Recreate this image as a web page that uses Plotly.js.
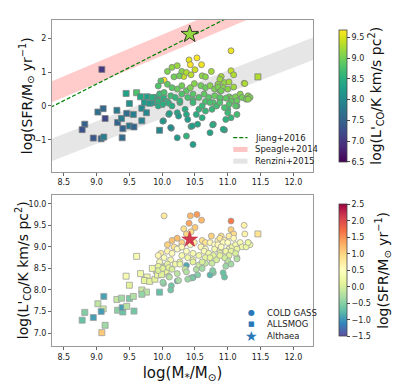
<!DOCTYPE html>
<html>
<head>
<meta charset="utf-8">
<script src="https://cdn.plot.ly/plotly-3.0.1.min.js"></script>
<style>
  body { margin: 0; background: #fff; }
  #plotArea { width: 415px; height: 389px; }
</style>
</head>
<body>
<div id="plotArea"></div>
<script>
// ALLSMOG (squares): stellar mass, SFR, L'CO  (all log)
var amMass = [9.08, 8.82, 8.78, 8.95, 9.02, 9.10, 9.13, 9.07, 9.11, 9.31, 9.32, 9.38, 9.40, 9.39, 9.50,
              9.57, 9.45, 9.61, 9.50, 9.67, 9.77, 9.73, 9.81, 9.89, 9.91, 9.69, 9.76, 9.56, 9.69, 9.96,
              9.46, 9.85, 9.93, 9.98, 10.02, 10.06, 9.99, 11.46];
var amSfr  = [1.08, -0.54, -0.70, -0.95, -0.18, -0.08, -0.37, -0.97, -0.92, -0.13, -0.49, -0.37, -0.67, -0.94, -0.59,
              -0.62, 0.37, 0.39, 0.07, 0.27, 0.27, 0.10, 0.08, 0.10, 0.25, -0.07, -0.20, -0.25, -0.44, -0.72,
              -0.22, 0.25, 0.15, 0.35, 0.22, 0.12, 0.05, 0.86];
var amLco  = [7.01, 7.48, 7.30, 7.36, 7.68, 7.56, 7.18, 7.50, 7.85, 7.78, 7.53, 7.81, 7.49, 7.59, 7.80,
              7.51, 8.32, 8.78, 8.11, 8.38, 8.30, 8.22, 8.20, 8.25, 8.45, 8.00, 7.95, 7.85, 7.90, 7.95,
              7.62, 8.50, 8.35, 8.55, 8.52, 8.42, 8.36, 9.30];

// COLD GASS (circles)
var cgMass = [10.41, 10.50, 10.03, 10.33, 10.53, 10.60, 10.15, 10.23, 10.30, 10.37, 10.43, 10.08, 10.18, 10.26, 10.61,
              10.66, 10.75, 10.44, 9.98, 10.08, 9.94, 10.15, 10.23, 10.30, 10.37, 10.43, 10.49, 10.59, 10.66, 10.73,
              10.80, 10.85, 10.88, 9.96, 10.03, 10.13, 10.20, 10.30, 10.39, 10.47, 10.56, 10.64, 10.71, 10.80, 10.88,
              9.94, 10.08, 10.27, 10.47, 10.66, 10.78,
              11.05, 11.05, 11.09, 11.25, 10.90, 10.88, 10.95, 11.02, 10.85, 10.93, 11.09, 10.90, 11.00, 11.31, 11.34,
              11.02, 11.07, 11.12, 11.19, 11.22, 10.97, 10.88, 11.14, 11.05, 11.26, 11.28, 11.14, 11.00, 10.95, 10.78,
              10.02, 10.14, 10.23, 10.37, 10.44, 10.54, 10.47, 10.73, 10.77, 9.94, 10.01, 10.10, 10.10, 10.23, 10.27,
              10.35, 10.37, 10.47, 10.52, 10.56, 10.61, 10.66, 10.73, 10.76, 10.83, 10.61, 10.15,
              10.93, 11.02, 11.12, 11.00, 11.05, 11.14, 10.95, 10.88, 10.97, 11.31, 10.01, 10.11, 10.13, 10.46, 10.25, 10.39];
var cgSfr  = [1.36, 1.07, 0.76, 0.87, 1.42, 1.22, 1.14, 1.19, 1.02, 0.99, 1.22, 1.02, 0.86, 0.89, 0.89,
              0.86, 1.02, 0.92, 0.74, 0.64, 0.59, 0.54, 0.50, 0.60, 0.45, 0.54, 0.66, 0.60, 0.54, 0.60,
              0.50, 0.64, 0.45, 0.35, 0.40, 0.30, 0.25, 0.35, 0.25, 0.35, 0.25, 0.35, 0.25, 0.30, 0.20,
              0.13, 0.13, 0.10, 0.17, 0.13, 0.10,
              1.63, 1.04, 0.92, 0.67, 0.87, 0.79, 0.69, 0.71, 0.56, 0.54, 0.56, 0.45, 0.50, 0.30, 0.25,
              0.27, 0.23, 0.27, 0.35, 0.25, 0.23, 0.25, 0.15, 0.13, 0.66, 0.20, 0.00, -0.10, -0.71, -0.54,
              -0.44, -0.66, -0.94, -0.89, -0.61, -0.54, -1.14, -0.79, -0.56, 0.00, 0.05, 0.08, -0.25, -0.20, 0.15,
              -0.10, -0.25, 0.10, -0.25, -0.10, -0.35, -0.15, 0.10, -0.10, 0.00, 0.00, 0.00,
              -0.69, 0.05, 0.00, -0.20, -0.35, -0.25, -0.05, 0.10, -0.40, 0.20, -0.45, -0.22, -0.64, -0.59, -0.30, -0.40];
var cgLco  = [9.55, 9.45, 9.72, 9.42, 9.75, 9.62, 9.15, 9.20, 9.10, 9.30, 9.72, 9.05, 9.00, 8.98, 9.15,
              9.10, 9.25, 9.35, 8.85, 8.90, 8.80, 8.85, 8.95, 9.00, 8.90, 9.05, 9.10, 9.00, 8.95, 9.10,
              9.05, 9.15, 9.00, 8.65, 8.75, 8.70, 8.60, 8.80, 8.75, 8.85, 8.80, 8.90, 8.85, 8.95, 8.90,
              8.55, 8.60, 8.65, 8.70, 8.75, 8.80,
              9.60, 9.40, 9.30, 9.50, 9.25, 9.20, 9.15, 9.25, 9.05, 9.10, 9.20, 9.00, 9.10, 9.10, 9.05,
              8.95, 9.00, 9.05, 9.10, 9.00, 8.90, 8.85, 8.95, 8.90, 9.30, 9.00, 8.75, 8.65, 8.30, 8.40,
              8.15, 8.10, 8.21, 8.57, 8.28, 8.35, 8.29, 8.35, 8.45, 8.45, 8.50, 8.52, 8.32, 8.38, 8.60,
              8.48, 8.42, 8.65, 8.48, 8.58, 8.50, 8.62, 8.75, 8.62, 8.70, 8.65, 8.48,
              8.40, 8.80, 8.85, 8.68, 8.60, 8.72, 8.75, 8.80, 8.55, 9.10, 8.18, 8.30, 8.00, 8.28, 8.22, 8.25];

// Althaea
var altMass = [10.42];
var altSfr = [2.12];
var altLco = [9.17];

// reference relations (end points)
var relX = [8.3, 12.3];
var jiangY = [-0.04, 3.88];
var speagleLo = [0.09, 3.37];
var speagleHi = [0.71, 3.99];
var renziniLo = [-1.64, 1.36];
var renziniHi = [-0.98, 2.02];

var lcoTicks = [6.5, 7.0, 7.5, 8.0, 8.5, 9.0, 9.5];
var sfrTicks = [-1.5, -1.0, -0.5, 0.0, 0.5, 1.0, 1.5, 2.0, 2.5];
var massTicks = [8.5, 9.0, 9.5, 10.0, 10.5, 11.0, 11.5, 12.0];

var topLegend = ["Jiang+2016", "Speagle+2014", "Renzini+2015"];
var bottomLegend = ["COLD GASS", "ALLSMOG", "Althaea"];

var spectralR = [
  [0.0, "#5e4fa2"], [0.1, "#3288bd"], [0.2, "#66c2a5"], [0.3, "#abdda4"], [0.4, "#e6f598"],
  [0.5, "#ffffbf"], [0.6, "#fee08b"], [0.7, "#fdae61"], [0.8, "#f46d43"], [0.9, "#d53e4f"], [1.0, "#9e0142"]
];

var font = "DejaVu Sans";
var lcoTitle = "log(L'<sub>CO</sub>/K km/s pc<sup>2</sup>)";
var sfrTitle = "log(SFR/M<sub>⊙</sub> yr<sup>−1</sup>)";

function cbar(y, ticks, title) {
  return {
    x: 1.062, xanchor: "left", y: y, yanchor: "middle", len: 0.465, lenmode: "fraction",
    thickness: 8, outlinewidth: 0.8, outlinecolor: "#444",
    ticks: "outside", ticklen: 3, tickcolor: "#444",
    tickvals: ticks, ticktext: ticks.map(t => t.toFixed(1).replace("-", "−")),
    tickfont: {family: font, size: 8, color: "#222"},
    title: {text: title, side: "right", font: {family: font, size: 14, color: "#111"}}
  };
}

var traces = [];

// top panel bands
traces.push({x: relX.concat(relX.slice().reverse()), y: renziniLo.concat(renziniHi.slice().reverse()),
  fill: "toself", fillcolor: "rgba(200,200,200,0.45)", line: {width: 0}, mode: "lines",
  hoverinfo: "skip", showlegend: false, xaxis: "x", yaxis: "y"});
traces.push({x: relX.concat(relX.slice().reverse()), y: speagleLo.concat(speagleHi.slice().reverse()),
  fill: "toself", fillcolor: "rgba(255,140,140,0.45)", line: {width: 0}, mode: "lines",
  hoverinfo: "skip", showlegend: false, xaxis: "x", yaxis: "y"});
traces.push({x: relX, y: jiangY, mode: "lines", line: {color: "green", width: 1.2, dash: "4px,2px"},
  showlegend: false, xaxis: "x", yaxis: "y"});

// top panel data
traces.push({x: amMass, y: amSfr, mode: "markers", type: "scatter", xaxis: "x", yaxis: "y", showlegend: false,
  marker: {symbol: "square", size: 6, color: amLco, colorscale: "Viridis", cmin: 6.5, cmax: 9.68,
           line: {color: "#808080", width: 0.8}}});
traces.push({x: cgMass, y: cgSfr, mode: "markers", type: "scatter", xaxis: "x", yaxis: "y", showlegend: false,
  marker: {symbol: "circle", size: 6, color: cgLco, colorscale: "Viridis", cmin: 6.5, cmax: 9.68,
           line: {color: "#808080", width: 0.8}, colorbar: cbar(0.7675, lcoTicks, lcoTitle)}});
traces.push({x: altMass, y: altSfr, mode: "markers", type: "scatter", xaxis: "x", yaxis: "y", showlegend: false,
  marker: {symbol: "star", size: 13, color: altLco, colorscale: "Viridis", cmin: 6.5, cmax: 9.68,
           line: {color: "#111", width: 0.8}}});

// bottom panel data
traces.push({x: amMass, y: amLco, mode: "markers", type: "scatter", xaxis: "x2", yaxis: "y2", showlegend: false,
  marker: {symbol: "square", size: 6, color: amSfr, colorscale: spectralR, cmin: -1.5, cmax: 2.5,
           line: {color: "#a0a0a0", width: 0.8}}});
traces.push({x: cgMass, y: cgLco, mode: "markers", type: "scatter", xaxis: "x2", yaxis: "y2", showlegend: false,
  marker: {symbol: "circle", size: 6, color: cgSfr, colorscale: spectralR, cmin: -1.5, cmax: 2.5,
           line: {color: "#a0a0a0", width: 0.8}, colorbar: cbar(0.232, sfrTicks, sfrTitle)}});
traces.push({x: altMass, y: altLco, mode: "markers", type: "scatter", xaxis: "x2", yaxis: "y2", showlegend: false,
  marker: {symbol: "star", size: 12, color: altSfr, colorscale: spectralR, cmin: -1.5, cmax: 2.5,
           line: {color: "#c02030", width: 0.5}}});

// hand-made legends (paper coordinates)
var shapes = [
  {type: "line", xref: "paper", yref: "paper", x0: 0.6945, x1: 0.749, y0: 0.639, y1: 0.639,
   line: {color: "green", width: 1.2, dash: "4px,2px"}},
  {type: "line", xref: "paper", yref: "paper", x0: 0.6945, x1: 0.749, y0: 0.603, y1: 0.603,
   line: {color: "#ffc4c4", width: 5}},
  {type: "line", xref: "paper", yref: "paper", x0: 0.6945, x1: 0.749, y0: 0.567, y1: 0.567,
   line: {color: "#e4e4e4", width: 5}}
];
var annotations = [];
var topY = [0.639, 0.603, 0.567];
topLegend.forEach(function(name, i) {
  annotations.push({text: name, xref: "paper", yref: "paper", x: 0.771, y: topY[i], xanchor: "left", yanchor: "middle",
    showarrow: false, font: {family: font, size: 8.5, color: "#222"}});
});
var botY = [0.102, 0.0675, 0.0316];
var glyphs = ["●", "■", "★"];
var glyphSize = [8, 7, 14];
bottomLegend.forEach(function(name, i) {
  annotations.push({text: glyphs[i], xref: "paper", yref: "paper", x: 0.765, y: botY[i], xanchor: "center", yanchor: "middle",
    showarrow: false, font: {family: font, size: glyphSize[i], color: "#2a78b8"}});
  annotations.push({text: name, xref: "paper", yref: "paper", x: 0.8145, y: botY[i], xanchor: "left", yanchor: "middle",
    showarrow: false, font: {family: font, size: 8.5, color: "#222"}});
});

// y axis titles placed as rotated annotations
annotations.push({text: sfrTitle, xref: "paper", yref: "paper", x: -0.098, y: 0.7675, xanchor: "center", yanchor: "middle",
  textangle: -90, showarrow: false, font: {family: font, size: 14, color: "#111"}});
annotations.push({text: lcoTitle, xref: "paper", yref: "paper", x: -0.108, y: 0.232, xanchor: "center", yanchor: "middle",
  textangle: -90, showarrow: false, font: {family: font, size: 14, color: "#111"}});

function axisBase() {
  return {
    showgrid: false, zeroline: false, showline: true, mirror: true, linecolor: "#999", linewidth: 1,
    ticks: "outside", ticklen: 3, tickcolor: "#666",
    tickfont: {family: font, size: 8, color: "#222"}
  };
}

var xa = Object.assign(axisBase(), {range: [8.32, 12.3], tickvals: massTicks, tickformat: ".1f", anchor: "y", domain: [0, 1]});
var xa2 = Object.assign(axisBase(), {range: [8.32, 12.3], tickvals: massTicks, tickformat: ".1f", anchor: "y2", domain: [0, 1],
  title: {text: "log(M<sub>*</sub>/M<sub>⊙</sub>)", font: {family: font, size: 15, color: "#111"}, standoff: 6}});
var ya = Object.assign(axisBase(), {range: [-1.94, 2.54], tickvals: [-1, 0, 1, 2], domain: [0.535, 1], anchor: "x"});
var ya2 = Object.assign(axisBase(), {range: [6.7, 10.21], tickvals: [7.0, 7.5, 8.0, 8.5, 9.0, 9.5, 10.0], tickformat: ".1f",
  domain: [0, 0.464], anchor: "x2"});

var layout = {
  width: 415, height: 389,
  margin: {l: 52, r: 88, t: 20, b: 43},
  paper_bgcolor: "#fff", plot_bgcolor: "#fff",
  font: {family: font},
  xaxis: xa, yaxis: ya, xaxis2: xa2, yaxis2: ya2,
  shapes: shapes, annotations: annotations,
  showlegend: false
};

Plotly.newPlot("plotArea", traces, layout, {displayModeBar: false, staticPlot: true});
</script>
</body>
</html>
